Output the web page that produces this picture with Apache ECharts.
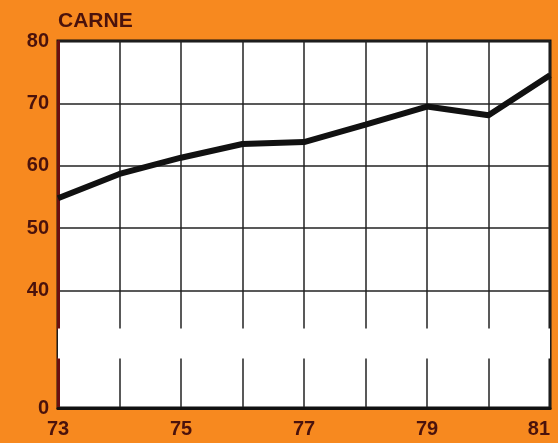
<!DOCTYPE html>
<html><head><meta charset="utf-8">
<script src="https://cdn.jsdelivr.net/npm/echarts@6/dist/echarts.min.js"></script>
<style>html,body{margin:0;padding:0;background:#F7891F;}#c{width:558px;height:443px;}</style>
</head><body><div id="c"></div>
<script>
const years = [73, 74, 75, 76, 77, 78, 79, 80, 81];
const carne = [54.8, 58.7, 61.3, 63.5, 63.8, 66.6, 69.5, 68.1, 74.5];
const yTicks = [0, 40, 50, 60, 70, 80];
const xTickLabels = [73, 75, 77, 79, 81];
const titleText = 'CARNE';

const chart = echarts.init(document.getElementById('c'));
const labelColor = '#4a120c';
chart.setOption({
  backgroundColor: '#F7891F',
  animation: false,
  title: { text: titleText, left: 53, top: 6, textStyle: { fontFamily: 'Liberation Sans', fontSize: 21, fontWeight: 'bold', color: labelColor } },
  grid: { left: 58, right: 8, top: 41, bottom: 35, show: true, backgroundColor: '#ffffff', borderWidth: 3, borderColor: '#111' },
  xAxis: {
    type: 'value', min: 73, max: 81, interval: 1,
    axisLine: { show: true, onZero: false, lineStyle: { color: '#111', width: 3 } },
    axisTick: { show: false },
    splitLine: { show: true, lineStyle: { color: '#222', width: 1.5 } },
    axisLabel: { margin: 11, fontFamily: 'Liberation Sans', fontSize: 20, fontWeight: 'bold', color: labelColor,
      alignMaxLabel: 'right',
      formatter: v => xTickLabels.includes(v) ? String(v) : '' }
  },
  yAxis: {
    type: 'value', min: 0, max: 80, interval: 10,
    breaks: [{ start: 8, end: 34, gap: 4.8 }],
    breakArea: { show: true, zigzagAmplitude: 0, zigzagZ: 100, expandOnClick: false,
      itemStyle: { color: '#ffffff', borderColor: '#ffffff', borderWidth: 0, opacity: 1 } },
    axisLine: { show: true, lineStyle: { color: '#6a1010', width: 3 } },
    axisTick: { show: false, customValues: yTicks },
    splitLine: { show: true, lineStyle: { color: '#222', width: 1.5 } },
    axisLabel: { margin: 9, fontFamily: 'Liberation Sans', fontSize: 20, fontWeight: 'bold', color: labelColor,
      customValues: yTicks, formatter: v => String(v) }
  },
  series: [{
    type: 'line', data: years.map((y, i) => [y, carne[i]]), showSymbol: false,
    lineStyle: { color: '#111', width: 6 }, z: 5
  }]
});
</script></body></html>
